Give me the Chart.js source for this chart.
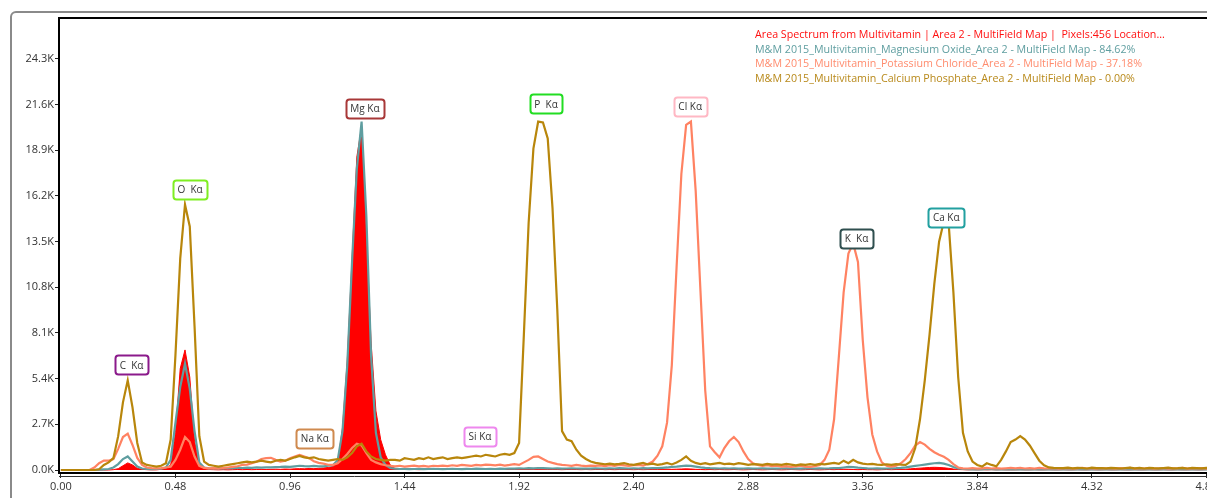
<!DOCTYPE html>
<html><head><meta charset="utf-8">
<script src="https://cdn.jsdelivr.net/npm/chart.js@4"></script>
<style>
html,body{margin:0;padding:0;background:#fff;overflow:hidden;width:1207px;height:498px;}
#frame{position:absolute;left:10px;top:11px;width:1400px;height:700px;border:2px solid #8a8a8a;border-radius:6px;box-sizing:border-box;}
#wrap{position:absolute;left:0;top:0;width:1240px;height:498px;}
#legend{position:absolute;left:755px;top:27px;font:10.7px "Open Sans",sans-serif;line-height:14.6px;white-space:pre;}
</style></head><body>
<div id="frame"></div>
<div id="wrap"><canvas id="c" width="1240" height="498"></canvas></div>
<div id="legend"></div>
<script>
// channel grid: 0.00 keV upward in 0.02 keV steps
const energyStep = 0.02;

const areaSpectrum = [
0,0,0,0,0,0,0,0,0,0,
0,20,80,250,420,300,100,40,20,10,
10,40,100,300,2200,6000,7100,5500,1700,350,
80,30,20,10,20,10,20,30,20,30,
20,30,40,30,40,50,40,60,50,70,
80,70,90,80,100,120,150,200,450,2500,
6500,12500,18500,20300,14000,7500,3500,1800,900,300,
80,40,30,40,30,20,30,40,30,40,
30,40,50,40,30,50,40,60,50,40,
50,40,60,50,40,30,50,40,60,50,
40,50,30,40,30,20,30,40,30,20,
30,20,30,40,20,30,20,30,40,30,
20,30,20,30,40,30,40,50,40,50,
60,70,60,40,30,20,30,20,30,20,
20,30,20,10,20,30,20,10,20,30,
20,10,20,30,20,10,20,30,20,10,
20,30,20,40,50,40,30,20,30,20,
20,10,20,30,20,30,40,50,70,90,
110,130,150,160,150,130,100,60,30,20,
10,20,10,20,10,20,10,20,10,10,
10,20,10,10,20,10,10,20,10,10,
20,10,10,20,10,10,20,10,10,20,
10,10,20,10,10,20,10,10,20,10,
10,20,10,10,20,10,10,20,10,10,
20,10,10,20,10,10
];

const magnesiumOxide = [
0,0,0,0,0,0,0,0,20,40,
60,150,350,650,800,500,200,90,60,50,
60,80,150,600,2800,4900,6300,4800,2300,450,
150,100,90,110,100,120,110,130,120,140,
130,150,140,160,150,170,180,200,190,220,
250,230,220,240,210,220,250,280,600,2300,
6200,12300,17800,20600,15000,6700,2200,750,300,120,
80,60,70,50,60,70,50,60,70,60,
50,60,70,60,50,70,60,80,70,60,
70,60,80,70,90,80,100,90,110,100,
120,110,100,90,100,80,90,100,90,80,
90,80,100,90,80,100,90,110,100,90,
100,90,110,100,120,110,130,150,180,200,
230,260,240,200,160,130,110,100,90,100,
90,100,80,90,100,80,90,100,80,90,
80,90,100,80,90,80,100,90,80,100,
90,100,120,110,150,180,170,140,120,100,
90,100,80,90,100,110,130,160,200,240,
280,320,360,400,420,380,300,180,100,60,
50,40,50,40,60,50,40,50,40,50,
40,50,30,40,50,40,30,50,40,30,
40,30,50,40,30,40,50,30,40,30,
40,50,30,40,30,50,40,30,40,50,
30,40,50,30,40,30,40,50,30,40,
40,30,40,50,30,40
];

const potassiumChloride = [
0,0,0,0,0,0,0,150,400,560,
550,650,1250,1950,2150,1480,710,300,150,110,
100,110,150,200,600,1200,1950,1650,800,250,
130,100,110,90,120,150,180,220,300,320,
400,490,650,700,720,600,490,550,700,800,
890,800,700,520,420,380,310,300,400,650,
950,1300,1550,1450,1000,600,450,350,280,250,
220,250,200,230,260,210,240,200,250,230,
260,230,280,250,300,270,240,300,280,320,
300,280,320,260,300,350,300,450,600,780,
800,650,500,420,350,300,280,250,300,260,
230,260,240,270,230,280,250,300,270,250,
280,300,260,350,500,850,1400,2800,6200,12000,
17500,20400,20600,16500,10600,4700,1400,1050,750,1300,
1700,1950,1650,1100,650,400,300,250,280,230,
250,200,230,180,220,250,200,180,230,300,
600,1200,3000,6700,10500,12800,13400,12300,7700,4300,
2100,1100,450,250,200,250,400,650,1000,1450,
1650,1500,1250,1050,900,780,600,350,150,100,
90,110,80,100,120,90,110,80,100,120,
100,130,90,110,80,120,100,90,110,80,
90,110,80,100,120,90,100,80,110,90,
100,80,110,90,120,80,100,90,110,80,
90,110,80,100,90,120,80,100,90,110,
80,100,90,110,80,100
];

const calciumPhosphate = [
0,0,0,0,0,0,0,0,40,300,
450,700,2000,4000,5300,3700,1600,450,300,250,
200,250,400,1800,6800,12500,15700,14400,8500,2000,
500,300,250,200,250,300,350,400,450,500,
450,500,550,500,450,550,600,550,650,750,
830,750,700,750,650,600,550,600,650,600,
750,1000,1400,1550,1100,800,650,600,550,600,
600,550,700,650,600,700,650,750,650,700,
750,650,700,750,700,750,800,850,800,900,
850,800,900,950,900,1000,1600,8000,14600,19000,
20600,20550,19600,15500,9500,2300,1800,1700,1200,850,
650,500,420,380,340,380,330,360,400,340,
300,360,420,330,380,300,350,420,330,450,
600,800,550,420,350,400,330,380,420,350,
380,330,400,360,300,350,330,300,360,320,
340,300,360,320,280,330,300,350,310,360,
330,380,420,360,550,400,600,450,380,340,
360,320,300,340,300,350,320,300,500,1300,
3000,5300,8000,11000,13500,14700,14600,10500,5500,2200,
1100,500,300,200,400,300,220,600,1100,1650,
1800,2000,1800,1450,1000,550,280,150,130,120,
110,140,100,130,120,90,140,110,120,100,
130,110,90,120,140,100,120,90,130,110,
100,120,140,100,110,130,90,120,110,100,
130,110,120,100,140,110
];

const seriesNames = [
  'Area Spectrum from Multivitamin | Area 2 - MultiField Map |  Pixels:456 Location...',
  'M&M 2015_Multivitamin_Magnesium Oxide_Area 2 - MultiField Map - 84.62%',
  'M&M 2015_Multivitamin_Potassium Chloride_Area 2 - MultiField Map - 37.18%',
  'M&M 2015_Multivitamin_Calcium Phosphate_Area 2 - MultiField Map - 0.00%'
];
const seriesColors = ['#ff0000', '#5f9ea0', '#ff8262', '#b8860b'];
const legendTextColors = ['#ff1010', '#5f9ea0', '#ff8c6e', '#b8891a'];

const xTickValues = [0, 0.48, 0.96, 1.44, 1.92, 2.40, 2.88, 3.36, 3.84, 4.32, 4.80];
const yTickValues = [0, 2700, 5400, 8100, 10800, 13500, 16200, 18900, 21600, 24300];

const peakLabelText   = ['C  K\u03b1', 'O  K\u03b1', 'Na K\u03b1', 'Mg K\u03b1', 'Si K\u03b1', 'P  K\u03b1', 'Cl K\u03b1', 'K  K\u03b1', 'Ca K\u03b1'];
const peakLabelEnergy = [0.296, 0.541, 1.064, 1.274, 1.756, 2.033, 2.637, 3.334, 3.710];
const peakLabelCounts = [6210, 16610, 1890, 21400, 2010, 21640, 21490, 13690, 14930];
const peakLabelColor  = ['#8b1a8b', '#7fee22', '#cf8a4f', '#a83838', '#ee88ee', '#22dd22', '#ffb8c4', '#2f4f4f', '#22a0a0'];

// legend (HTML text)
const legendEl = document.getElementById('legend');
seriesNames.forEach((n, i) => {
  const d = document.createElement('div');
  d.textContent = n;
  d.style.color = legendTextColors[i];
  legendEl.appendChild(d);
});

function toPoints(arr) {
  return arr.map((v, i) => ({ x: +(i * energyStep).toFixed(2), y: v }));
}

const framePlugin = {
  id: 'frameLines',
  afterDraw(chart) {
    const { ctx, chartArea: a } = chart;
    ctx.save();
    ctx.strokeStyle = '#000';
    ctx.lineWidth = 2;
    ctx.beginPath();
    ctx.moveTo(a.left - 1, a.top);
    ctx.lineTo(a.right + 10, a.top);
    ctx.stroke();
    ctx.lineWidth = 1;
    ctx.strokeStyle = '#333';
    ctx.beginPath();
    ctx.moveTo(a.left, a.bottom + 3.5);
    ctx.lineTo(a.right + 10, a.bottom + 3.5);
    ctx.stroke();
    ctx.restore();
  }
};

const peakLabelPlugin = {
  id: 'peakLabels',
  afterDatasetsDraw(chart) {
    const { ctx, scales: { x, y } } = chart;
    ctx.save();
    ctx.font = '10px "Open Sans", sans-serif';
    ctx.textAlign = 'center';
    ctx.textBaseline = 'middle';
    peakLabelText.forEach((t, i) => {
      const cx = x.getPixelForValue(peakLabelEnergy[i]);
      const cy = y.getPixelForValue(peakLabelCounts[i]);
      const w = Math.round(ctx.measureText(t).width + 9);
      const h = 19;
      ctx.beginPath();
      ctx.roundRect(Math.round(cx - w / 2) + 0.5, Math.round(cy - h / 2) + 0.5, w, h, 3);
      ctx.fillStyle = '#fff';
      ctx.fill();
      ctx.lineWidth = 2;
      ctx.strokeStyle = peakLabelColor[i];
      ctx.stroke();
      ctx.fillStyle = '#333';
      ctx.fillText(t, cx, cy + 1);
    });
    ctx.restore();
  }
};

new Chart(document.getElementById('c'), {
  type: 'line',
  data: {
    datasets: [
      { label: seriesNames[0], data: toPoints(areaSpectrum), borderColor: seriesColors[0], backgroundColor: seriesColors[0], fill: 'origin', borderWidth: 1, pointRadius: 0, order: 4 },
      { label: seriesNames[1], data: toPoints(magnesiumOxide), borderColor: seriesColors[1], fill: false, borderWidth: 2.2, pointRadius: 0, order: 3 },
      { label: seriesNames[2], data: toPoints(potassiumChloride), borderColor: seriesColors[2], fill: false, borderWidth: 2.2, pointRadius: 0, order: 2 },
      { label: seriesNames[3], data: toPoints(calciumPhosphate), borderColor: seriesColors[3], fill: false, borderWidth: 2.2, pointRadius: 0, order: 1 }
    ]
  },
  options: {
    responsive: false,
    animation: false,
    devicePixelRatio: 1,
    layout: { padding: { left: 10, top: 18, right: 5, bottom: 0 } },
    plugins: { legend: { display: false }, tooltip: { enabled: false } },
    elements: { line: { tension: 0 } },
    scales: {
      x: {
        type: 'linear', min: -0.008, max: 4.92,
        afterBuildTicks: s => { s.ticks = xTickValues.map(v => ({ value: v })); },
        afterFit: s => { s.height = 25; },
        ticks: { callback: v => Number(v).toFixed(2), font: { family: 'Open Sans', size: 11 }, color: '#333', padding: 2, maxRotation: 0, autoSkip: false },
        grid: { drawOnChartArea: false, tickLength: 5, color: '#222', lineWidth: 1 },
        border: { color: '#000', width: 2 }
      },
      y: {
        min: -177, max: 26723,
        afterBuildTicks: s => { s.ticks = yTickValues.map(v => ({ value: v })); },
        afterFit: s => { s.width = 49; },
        ticks: { callback: v => (v / 1000).toFixed(1) + 'K', font: { family: 'Open Sans', size: 11 }, color: '#333', padding: 1, autoSkip: false },
        grid: { drawOnChartArea: false, tickLength: 4, color: '#222', lineWidth: 1 },
        border: { color: '#000', width: 2 }
      }
    }
  },
  plugins: [framePlugin, peakLabelPlugin]
});
</script></body></html>
